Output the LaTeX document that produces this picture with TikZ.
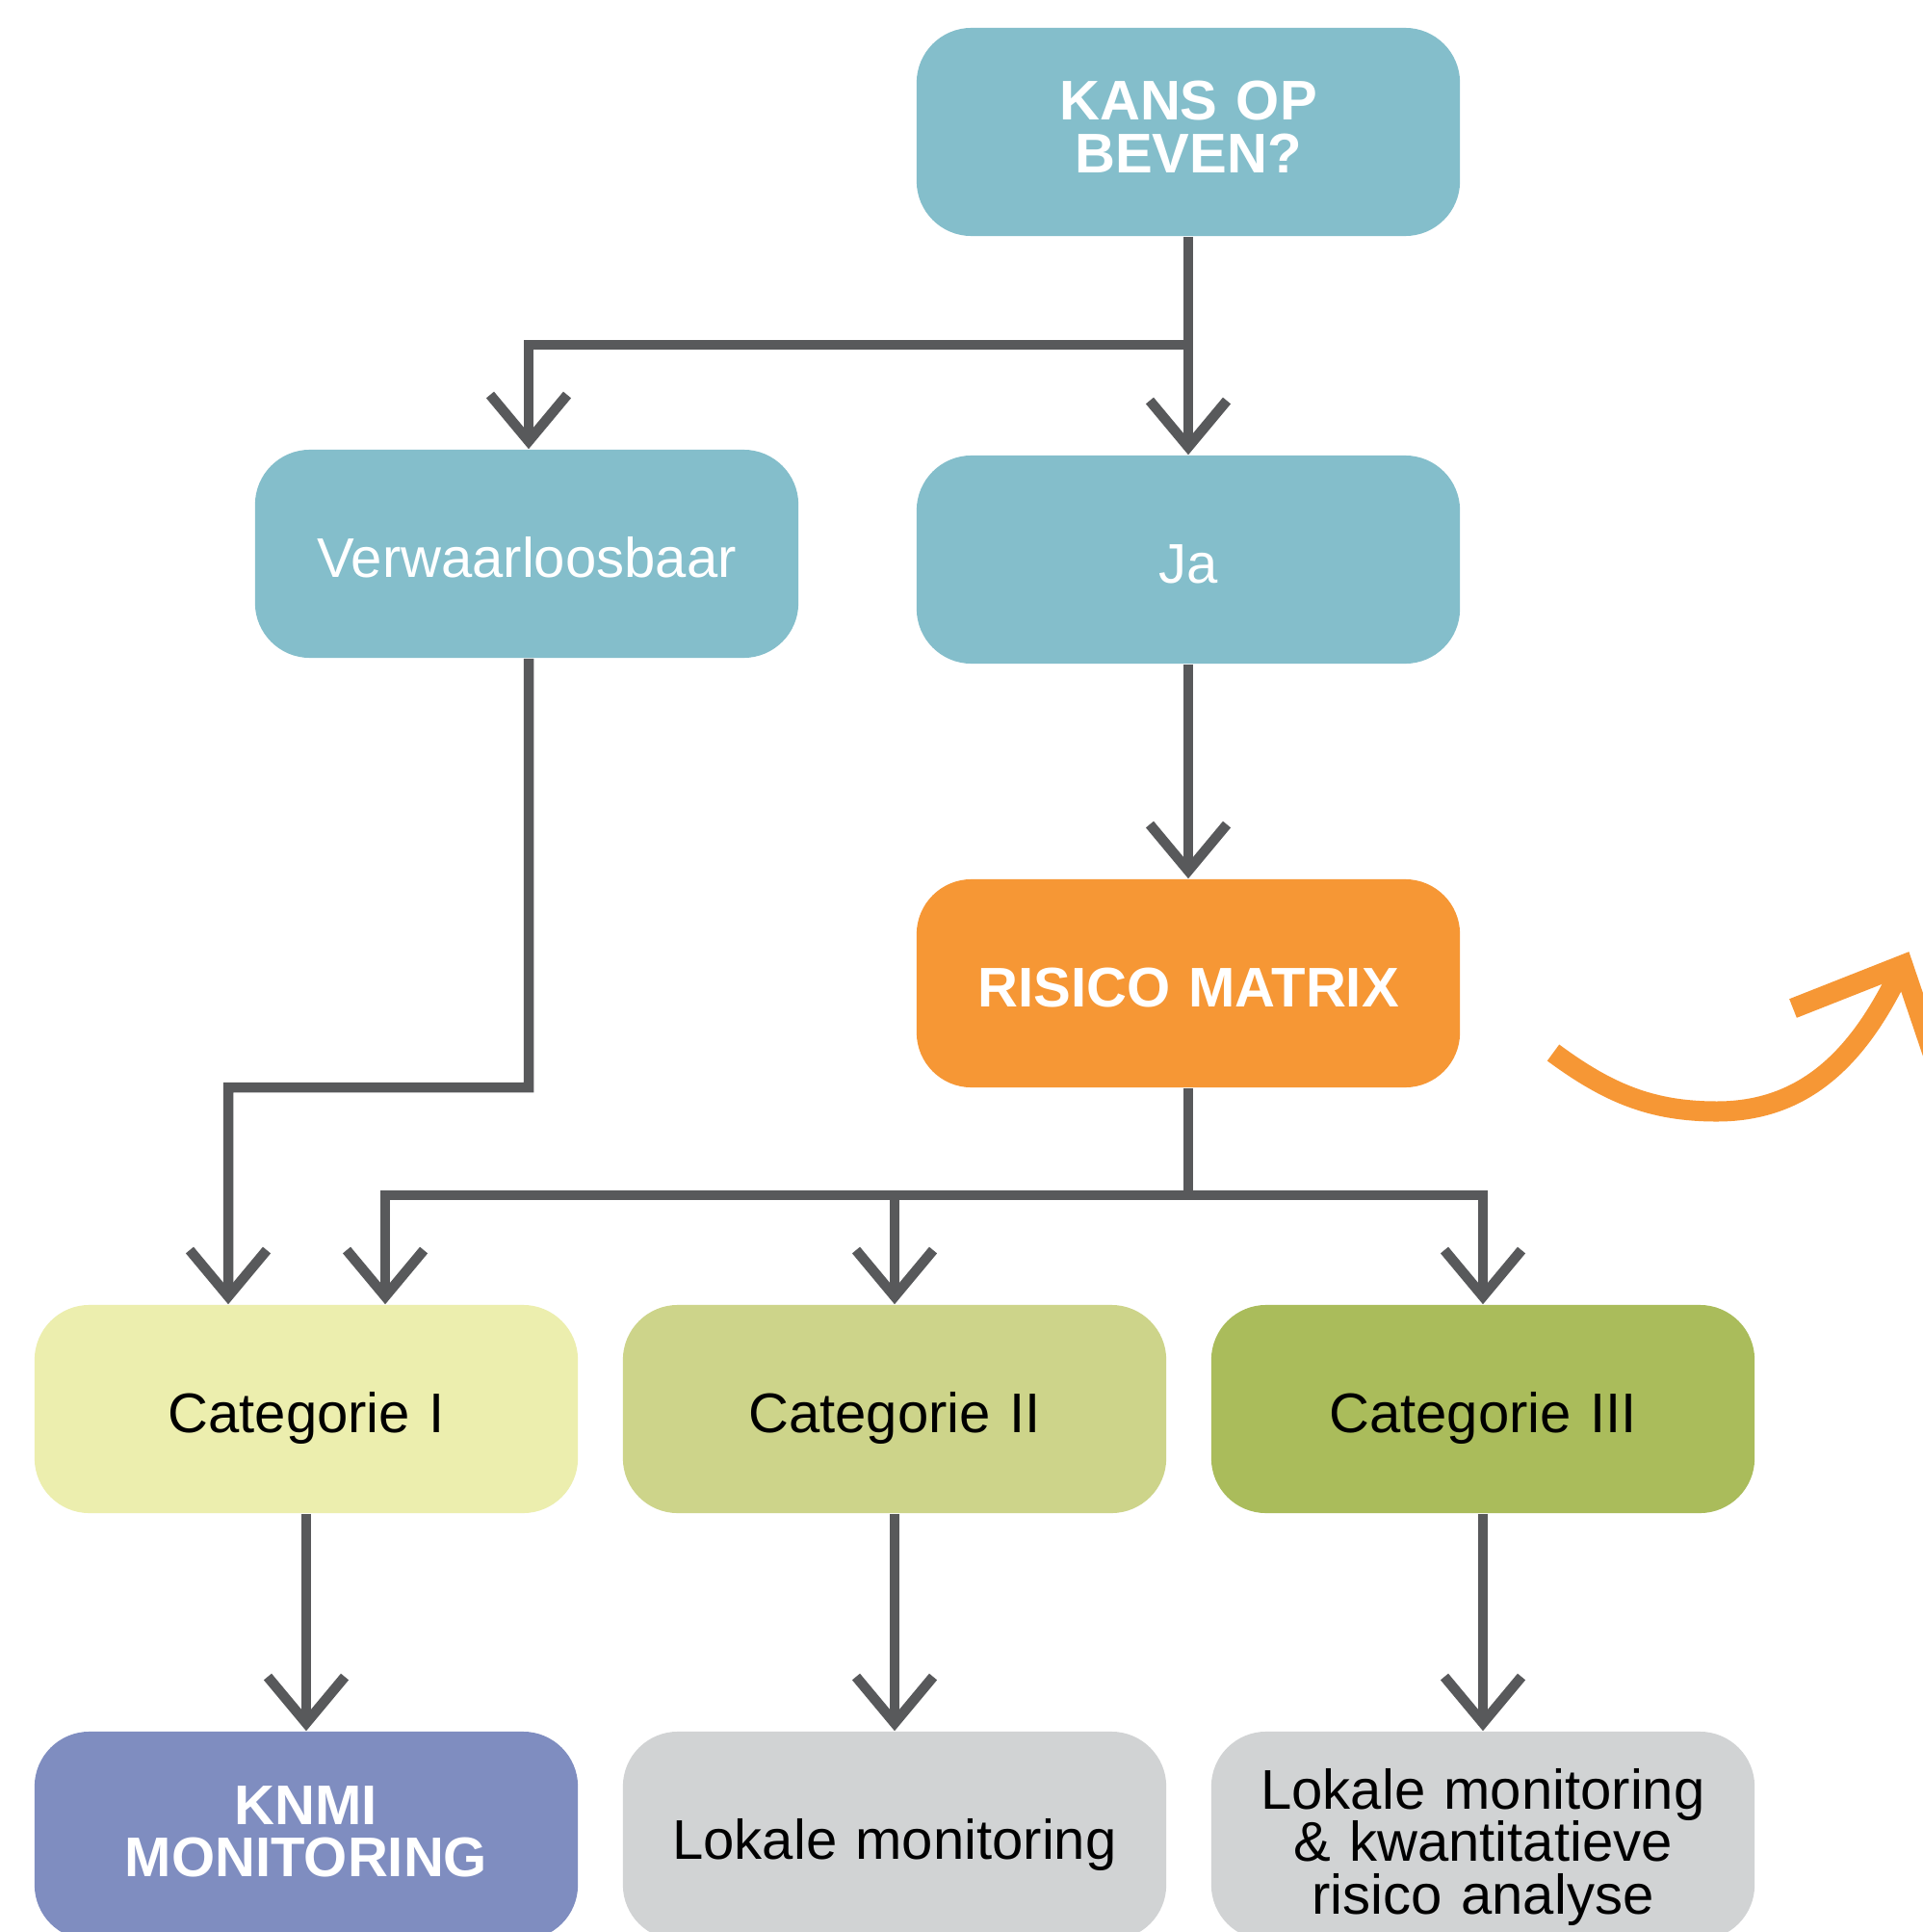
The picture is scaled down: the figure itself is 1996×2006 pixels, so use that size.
\documentclass[tikz,border=0pt]{standalone}
\usepackage{fontspec}
\setmainfont{Liberation Sans}
\usetikzlibrary{arrows.meta}
\definecolor{cteal}{HTML}{84BECB}
\definecolor{corange}{HTML}{F69735}
\definecolor{ccatA}{HTML}{ECEEAE}
\definecolor{ccatB}{HTML}{CDD48A}
\definecolor{ccatC}{HTML}{AABC5B}
\definecolor{cknmi}{HTML}{7F8DC0}
\definecolor{cgrey}{HTML}{D1D3D4}
\definecolor{cline}{HTML}{58595B}
\begin{document}
\begin{tikzpicture}[x=0.01cm,y=-0.01cm,
  box/.style={rounded corners=0.57cm, minimum width=5.64cm, minimum height=2.16cm,
    align=center, inner sep=0pt, text width=5.4cm,
    font=\fontsize{16.5}{15.5}\selectfont},
  oneline/.style={box, text height=0.48cm, text depth=0cm},
  twoline/.style={box, text height=0cm, text depth=0.24cm},
  threeline/.style={box, text height=0cm, text depth=0.56cm},
  plainline/.style={draw=cline, line width=0.105cm, line join=miter},
  conn/.style={plainline, -{Straight Barb[length=0.48cm, width=0.8cm, line join=miter]}},
  orangearrow/.style={draw=corange, line width=0.21cm, line join=miter}]
\useasboundingbox (0,0) rectangle (1996,2006);
\fill[white] (0,0) rectangle (1996,2006);

% nodes
\node[twoline, fill=cteal, text=white] (kans) at (1234,137) {\bfseries KANS OP\\\bfseries BEVEN?};
\node[oneline, fill=cteal, text=white] (verw) at (547,575) {Verwaarloosbaar};
\node[oneline, fill=cteal, text=white] (ja) at (1234,581) {Ja};
\node[oneline, fill=corange, text=white] (risico) at (1234,1021) {\bfseries RISICO MATRIX};
\node[oneline, fill=ccatA, text=black] (c1) at (318,1463) {Categorie I};
\node[oneline, fill=ccatB, text=black] (c2) at (929,1463) {Categorie II};
\node[oneline, fill=ccatC, text=black] (c3) at (1540,1463) {Categorie III};
\node[twoline, fill=cknmi, text=white] (knmi) at (318,1906) {\bfseries KNMI\\\bfseries MONITORING};
\node[oneline, fill=cgrey, text=black] (lok) at (929,1906) {Lokale monitoring};
\node[threeline, fill=cgrey, text=black] (lokk) at (1540,1906) {Lokale monitoring\\\& kwantitatieve\\risico analyse};

% connectors
\coordinate (j1) at (1234,358);
\draw[plainline] (kans.south) -- (j1);
\draw[conn] (j1) -| ([xshift=0.02cm]verw.north);
\draw[conn] (j1) -- (ja.north);
\draw[conn] (ja.south) -- (risico.north);

\coordinate (v1) at (549,1129);
\coordinate (v2) at (237,1129);
\draw[conn] ([xshift=0.02cm]verw.south) -- (v1) -- (v2) -- (v2 |- c1.north);

\coordinate (r1) at (1234,1241);
\draw[plainline] (risico.south) -- (r1);
\draw[conn] (r1) -| ([xshift=0.82cm]c1.north);
\draw[conn] (r1) -| (c2.north);
\draw[conn] (r1) -| (c3.north);

\draw[conn] (c1.south) -- (knmi.north);
\draw[conn] (c2.south) -- (lok.north);
\draw[conn] (c3.south) -- (lokk.north);

% orange curved arrow
\coordinate (o0) at (1613,1093);
\coordinate (obot) at (1783,1154);
\coordinate (otip) at (1976,1002);
\coordinate (oarmL) at (1862,1047);
\coordinate (oarmR) at (2019,1129);
\draw[orangearrow] (o0) .. controls (1670,1135) and (1715,1154) .. (obot)
  .. controls (1880,1154) and (1935,1090) .. (otip);
\draw[orangearrow] (oarmL) -- (otip) -- (oarmR);
\end{tikzpicture}
\end{document}
